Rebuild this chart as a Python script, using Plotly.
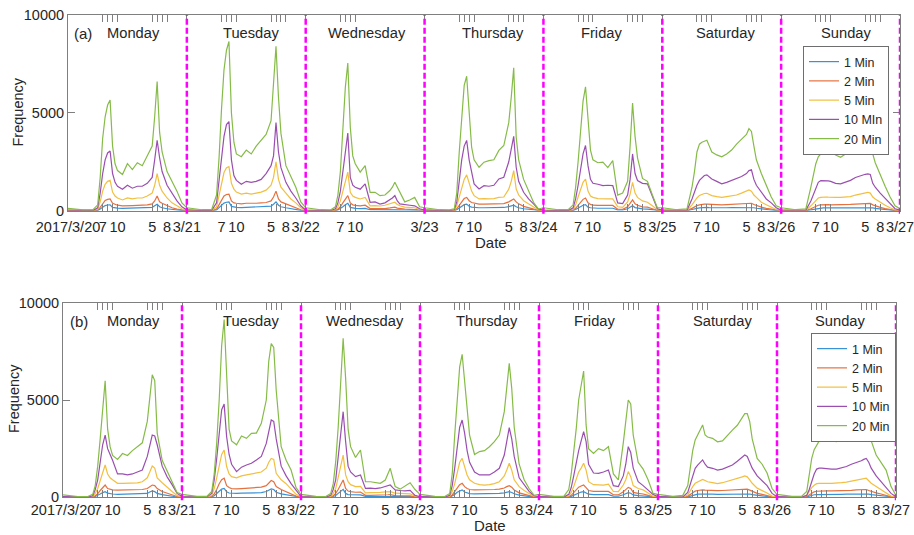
import plotly.graph_objects as go

# ---------------- data ----------------
HOURS = [0, 3, 5, 6, 6.5, 7, 7.5, 8, 8.5, 9, 9.5, 10, 11, 12, 13, 14, 15, 16, 17, 17.5, 18, 18.5, 19, 20, 21, 22, 23]
DAYS = ["Monday", "Tuesday", "Wednesday", "Thursday", "Friday", "Saturday", "Sunday"]
DATE_LABELS = ["2017/3/20", "3/21", "3/22", "3/23", "3/24", "3/25", "3/26", "3/27"]
HOUR_TICKS = [7, 8, 9, 10, 17, 18, 19, 20]
HOUR_TICK_TEXT = ["7", "", "", "10", "5", "", "", "8"]
NAMES_A = ["1 Min", "2 Min", "5 Min", "10 MIn", "20 Min"]
NAMES_B = ["1 Min", "2 Min", "5 Min", "10 Min", "20 Min"]
Y_TICKS = [0, 5000, 10000]

# panel (a)
A_1MIN = [
    [2, 1, 1, 15, 90, 190, 260, 290, 300, 170, 140, 130, 120, 125, 120, 125, 125, 140, 170, 250, 330, 200, 150, 100, 60, 30, 10],
    [2, 1, 1, 40, 160, 280, 390, 430, 450, 220, 180, 170, 160, 170, 165, 170, 180, 190, 230, 330, 450, 280, 200, 150, 100, 60, 20],
    [2, 1, 1, 10, 40, 100, 200, 300, 380, 170, 130, 120, 110, 120, 50, 50, 45, 50, 60, 70, 80, 55, 45, 35, 30, 25, 10],
    [2, 1, 1, 5, 50, 140, 240, 310, 340, 230, 180, 160, 150, 150, 150, 150, 160, 165, 210, 240, 280, 200, 150, 100, 70, 35, 8],
    [2, 1, 1, 15, 60, 140, 220, 280, 310, 180, 150, 130, 125, 125, 125, 125, 40, 35, 100, 160, 250, 160, 130, 90, 80, 45, 10],
    [2, 1, 2, 60, 100, 120, 140, 155, 160, 165, 160, 155, 150, 145, 150, 155, 160, 165, 175, 180, 175, 150, 125, 85, 55, 35, 10],
    [2, 1, 2, 50, 85, 110, 130, 140, 145, 145, 145, 140, 140, 140, 145, 150, 160, 165, 170, 175, 170, 140, 115, 80, 50, 25, 8],
]
A_2MIN = [
    [5, 2, 2, 30, 170, 380, 520, 580, 600, 380, 320, 280, 250, 270, 260, 270, 270, 300, 350, 500, 750, 450, 380, 250, 150, 80, 30],
    [5, 2, 2, 80, 300, 550, 750, 830, 850, 500, 400, 380, 350, 380, 370, 380, 400, 420, 500, 700, 1000, 600, 450, 350, 250, 150, 50],
    [5, 2, 2, 20, 80, 200, 400, 620, 770, 400, 300, 270, 250, 280, 110, 110, 100, 110, 140, 160, 180, 130, 100, 80, 70, 60, 20],
    [5, 2, 2, 10, 100, 280, 480, 620, 680, 510, 420, 380, 340, 340, 340, 340, 350, 360, 450, 520, 600, 450, 350, 220, 150, 80, 15],
    [5, 2, 2, 30, 120, 280, 450, 580, 650, 400, 320, 280, 270, 270, 270, 270, 80, 70, 200, 350, 550, 350, 280, 200, 180, 100, 20],
    [5, 2, 4, 120, 200, 260, 300, 330, 340, 340, 330, 320, 310, 300, 310, 320, 330, 350, 370, 380, 380, 320, 270, 180, 120, 70, 20],
    [5, 2, 4, 100, 170, 230, 280, 300, 310, 310, 310, 300, 300, 300, 310, 320, 340, 350, 370, 380, 370, 300, 250, 170, 110, 60, 15],
]
A_5MIN = [
    [15, 5, 5, 80, 450, 1000, 1350, 1500, 1550, 950, 750, 650, 550, 650, 600, 650, 650, 750, 900, 1300, 1900, 1300, 1000, 650, 400, 250, 100],
    [20, 5, 5, 200, 750, 1400, 1950, 2200, 2250, 1400, 1100, 950, 850, 900, 850, 900, 950, 1050, 1300, 1700, 2500, 1600, 1200, 900, 600, 400, 150],
    [15, 5, 5, 50, 200, 500, 1000, 1600, 1970, 940, 750, 680, 600, 680, 250, 260, 240, 280, 350, 400, 430, 320, 250, 180, 170, 150, 60],
    [15, 5, 5, 30, 250, 700, 1200, 1600, 1830, 1370, 1000, 770, 600, 620, 600, 620, 680, 700, 1100, 1500, 2050, 1110, 800, 510, 350, 200, 40],
    [15, 5, 5, 80, 300, 700, 1100, 1450, 1620, 1000, 750, 680, 620, 600, 600, 600, 200, 170, 450, 850, 1450, 900, 680, 500, 430, 250, 50],
    [15, 5, 10, 300, 500, 650, 780, 850, 880, 890, 830, 770, 720, 680, 720, 760, 800, 900, 1000, 1060, 1000, 800, 680, 430, 300, 180, 60],
    [15, 5, 10, 250, 400, 550, 650, 680, 700, 700, 690, 680, 680, 680, 700, 720, 800, 850, 920, 940, 900, 700, 600, 420, 280, 150, 40],
]
A_10MIN = [
    [30, 10, 10, 150, 900, 1900, 2600, 2950, 3050, 1900, 1450, 1250, 1100, 1300, 1150, 1250, 1250, 1400, 1700, 2600, 3600, 2700, 2000, 1300, 900, 500, 200],
    [40, 15, 15, 400, 1500, 2800, 3800, 4400, 4550, 2600, 1800, 1550, 1350, 1500, 1450, 1500, 1600, 1900, 2300, 2800, 4500, 3000, 2200, 1450, 1000, 650, 250],
    [30, 10, 10, 100, 400, 1000, 2000, 3200, 3970, 1700, 1300, 1200, 1100, 1370, 430, 450, 340, 400, 550, 650, 770, 500, 350, 300, 280, 250, 100],
    [30, 10, 10, 50, 450, 1500, 2600, 3300, 3590, 2600, 1880, 1370, 1110, 1280, 1250, 1300, 1620, 1710, 2500, 3200, 3800, 2220, 1500, 940, 600, 350, 80],
    [30, 10, 10, 150, 600, 1300, 2200, 2900, 3330, 2300, 1600, 1400, 1350, 1280, 1300, 1280, 400, 360, 800, 1600, 2900, 1900, 1540, 1400, 1370, 700, 100],
    [30, 10, 30, 600, 1000, 1300, 1550, 1700, 1800, 1830, 1700, 1620, 1500, 1370, 1450, 1550, 1650, 1750, 1900, 2050, 2090, 1600, 1300, 940, 600, 400, 150],
    [30, 10, 30, 500, 800, 1200, 1450, 1540, 1540, 1540, 1520, 1500, 1400, 1370, 1450, 1550, 1700, 1790, 1860, 1880, 1850, 1400, 1200, 900, 650, 350, 100],
]
A_20MIN = [
    [120, 40, 40, 300, 1700, 3700, 4800, 5400, 5650, 3300, 2400, 2050, 1850, 2400, 2100, 2450, 2300, 2800, 3300, 4800, 6600, 4000, 3000, 2000, 1500, 1000, 400],
    [150, 50, 50, 800, 2700, 5200, 7200, 8200, 8650, 5000, 3500, 2900, 2760, 3100, 2900, 3300, 3600, 3900, 4600, 6300, 8400, 5800, 3950, 2300, 1700, 1200, 450],
    [150, 50, 40, 200, 800, 2000, 4000, 6300, 7550, 4270, 2800, 2400, 1970, 2300, 940, 940, 770, 800, 1030, 1200, 1450, 1200, 900, 450, 550, 680, 200],
    [150, 50, 40, 100, 900, 3000, 5000, 6400, 6870, 4800, 3250, 2600, 2220, 2480, 2560, 2600, 3080, 3330, 4500, 5800, 7300, 3760, 2600, 1600, 1030, 430, 85],
    [150, 50, 50, 300, 1200, 2500, 4300, 5600, 6330, 4500, 3100, 2600, 2450, 2480, 2200, 2560, 800, 900, 1500, 3300, 5500, 3800, 2700, 1650, 1500, 800, 150],
    [150, 50, 100, 1200, 2000, 3000, 3400, 3500, 3550, 3600, 3300, 3000, 2850, 2750, 2900, 3100, 3400, 3650, 3900, 4190, 4050, 3300, 2600, 1900, 1300, 700, 250],
    [150, 50, 100, 1200, 1750, 2400, 2750, 2900, 3050, 3080, 3050, 3000, 2850, 2730, 2900, 3200, 3500, 3670, 3850, 3900, 3750, 2900, 2450, 1800, 1250, 700, 250],
]
A_END = [2, 5, 15, 30, 100]

# panel (b)
B_1MIN = [
    [2, 1, 1, 10, 40, 90, 170, 240, 290, 210, 180, 170, 150, 155, 155, 155, 160, 170, 200, 270, 330, 290, 200, 140, 90, 50, 15],
    [2, 1, 1, 20, 80, 180, 320, 420, 460, 280, 220, 210, 200, 210, 215, 220, 230, 240, 300, 380, 430, 400, 260, 180, 130, 80, 25],
    [2, 1, 1, 10, 40, 90, 200, 310, 410, 200, 140, 130, 120, 125, 50, 50, 50, 50, 55, 60, 65, 50, 40, 35, 35, 30, 10],
    [2, 1, 1, 10, 60, 150, 260, 340, 380, 270, 210, 190, 180, 180, 180, 180, 190, 200, 230, 260, 290, 250, 180, 110, 70, 40, 10],
    [2, 1, 1, 15, 50, 110, 180, 240, 270, 290, 230, 160, 140, 135, 135, 140, 60, 55, 130, 180, 240, 210, 120, 90, 80, 45, 10],
    [2, 1, 1, 25, 70, 110, 150, 165, 170, 175, 170, 165, 160, 155, 160, 165, 175, 180, 190, 195, 190, 170, 140, 95, 70, 40, 10],
    [2, 1, 1, 20, 60, 100, 130, 140, 145, 150, 150, 150, 150, 150, 155, 160, 165, 170, 180, 185, 180, 160, 140, 105, 80, 45, 10],
]
B_2MIN = [
    [5, 2, 2, 20, 80, 180, 350, 500, 630, 450, 400, 380, 370, 380, 380, 380, 390, 400, 450, 550, 630, 600, 450, 300, 200, 120, 40],
    [5, 2, 2, 40, 180, 400, 700, 900, 980, 600, 500, 450, 430, 450, 460, 480, 500, 520, 600, 750, 860, 800, 550, 400, 300, 180, 60],
    [5, 2, 2, 20, 80, 200, 400, 650, 890, 450, 320, 290, 260, 270, 100, 100, 100, 110, 120, 130, 140, 110, 90, 80, 80, 70, 20],
    [5, 2, 2, 20, 120, 300, 500, 650, 720, 550, 450, 400, 380, 380, 380, 380, 400, 420, 480, 550, 600, 520, 380, 230, 150, 90, 20],
    [5, 2, 2, 30, 100, 230, 380, 520, 580, 630, 500, 350, 300, 290, 290, 300, 130, 120, 280, 380, 510, 450, 250, 200, 170, 100, 20],
    [5, 2, 2, 50, 150, 240, 320, 350, 370, 380, 370, 360, 350, 340, 350, 360, 380, 400, 420, 430, 420, 370, 300, 200, 150, 90, 25],
    [5, 2, 2, 40, 130, 220, 280, 310, 320, 330, 330, 330, 330, 330, 340, 350, 360, 380, 400, 410, 400, 350, 300, 230, 170, 100, 25],
]
B_5MIN = [
    [15, 5, 5, 50, 200, 450, 900, 1300, 1660, 1200, 1000, 900, 720, 720, 720, 720, 740, 800, 1000, 1300, 1610, 1500, 1000, 750, 500, 300, 100],
    [20, 5, 5, 100, 450, 1000, 1700, 2200, 2430, 1580, 1200, 1060, 1000, 1100, 1150, 1200, 1230, 1300, 1500, 1800, 2000, 1950, 1230, 900, 700, 450, 150],
    [15, 5, 5, 50, 200, 450, 1000, 1600, 2170, 1150, 800, 650, 550, 560, 230, 240, 230, 250, 280, 300, 290, 250, 210, 200, 200, 180, 60],
    [15, 5, 5, 50, 300, 700, 1300, 1800, 2000, 1500, 1150, 900, 720, 650, 630, 650, 700, 800, 1100, 1400, 1750, 1400, 900, 550, 350, 200, 50],
    [15, 5, 5, 70, 250, 550, 900, 1300, 1500, 1750, 1400, 800, 650, 630, 630, 680, 300, 290, 630, 900, 1320, 1060, 600, 450, 380, 220, 50],
    [15, 5, 5, 120, 350, 550, 720, 800, 880, 920, 860, 800, 750, 700, 750, 820, 880, 950, 1050, 1100, 1050, 900, 720, 470, 350, 220, 60],
    [15, 5, 5, 100, 300, 500, 620, 700, 720, 730, 720, 720, 720, 720, 750, 780, 830, 870, 920, 960, 980, 850, 720, 550, 400, 250, 60],
]
B_10MIN = [
    [30, 10, 10, 80, 400, 900, 1800, 2700, 3200, 2500, 2200, 1900, 1200, 1200, 1150, 1200, 1300, 1400, 2100, 2700, 3200, 3150, 2700, 1600, 1050, 650, 200],
    [40, 15, 15, 200, 900, 2000, 3300, 4500, 4790, 3120, 2200, 1700, 1320, 1550, 1660, 1750, 1920, 2100, 2770, 3400, 3970, 3900, 3000, 1600, 1100, 700, 350],
    [30, 10, 10, 100, 400, 900, 2000, 3300, 4400, 2860, 1600, 1300, 1060, 1150, 460, 470, 450, 480, 550, 600, 630, 500, 380, 350, 330, 360, 100],
    [30, 10, 10, 100, 600, 1500, 2600, 3600, 3970, 3300, 2400, 1800, 1300, 1150, 1150, 1150, 1300, 1490, 2170, 2900, 3580, 3000, 2100, 1000, 650, 300, 80],
    [30, 10, 10, 150, 500, 1100, 1800, 2400, 2900, 3370, 2860, 1700, 1250, 1230, 1300, 1400, 600, 550, 1100, 1700, 2600, 2300, 1500, 800, 600, 380, 150],
    [30, 10, 15, 250, 700, 1100, 1490, 1650, 1800, 1920, 1700, 1550, 1490, 1400, 1450, 1550, 1660, 1850, 2050, 2170, 2100, 1830, 1500, 1100, 850, 600, 200],
    [30, 10, 10, 100, 400, 800, 1200, 1450, 1500, 1500, 1480, 1470, 1450, 1450, 1520, 1580, 1700, 1780, 1880, 1950, 2000, 1800, 1500, 1100, 800, 550, 200],
]
B_20MIN = [
    [120, 40, 40, 150, 600, 1600, 3000, 4500, 5990, 3500, 2600, 2150, 1950, 2250, 2150, 2400, 2600, 2800, 3900, 5200, 6300, 6000, 3300, 1900, 1350, 800, 250],
    [150, 50, 50, 300, 1200, 2800, 5000, 7800, 9140, 6030, 3500, 2900, 2700, 3150, 3030, 3290, 3300, 3800, 5000, 7000, 7900, 7700, 5500, 2600, 1900, 1400, 500],
    [150, 50, 40, 200, 700, 1830, 3600, 6000, 8170, 6110, 3500, 2600, 2050, 2430, 800, 800, 760, 720, 890, 1200, 1490, 1000, 550, 420, 600, 750, 400],
    [150, 50, 40, 200, 1200, 3200, 5200, 6700, 7350, 6000, 4500, 3200, 2200, 2350, 2400, 2600, 2860, 3200, 4400, 5600, 6880, 5600, 3600, 1700, 900, 450, 100],
    [150, 50, 50, 400, 1200, 2200, 3500, 5000, 5800, 6490, 3720, 2500, 2260, 2500, 2400, 2600, 1200, 890, 2800, 4000, 5000, 4800, 3200, 1800, 1450, 900, 200],
    [150, 50, 100, 600, 1500, 2400, 2950, 3200, 3400, 3720, 3200, 3100, 3030, 2850, 2900, 3200, 3450, 3700, 4100, 4300, 4300, 3890, 3000, 2000, 1700, 1250, 450],
    [150, 50, 60, 300, 1200, 2000, 2450, 2690, 2900, 3120, 3000, 2950, 2900, 2860, 3000, 3200, 3450, 3650, 3800, 3900, 3970, 3500, 2900, 2170, 1750, 1400, 550],
]
B_END = [2, 5, 15, 30, 100]

# day-label positions (hours from 2017/3/20 00:00)
LABEL_HOURS_A = [13.3, 36.9, 60.4, 85.8, 107.8, 132.8, 157.1]
LABEL_HOURS_B = [14.2, 37.9, 60.9, 85.5, 107.1, 133.0, 156.7]
# panel (a) Wednesday shows no evening ticks
A_SKIP_EVENING = [2]

COLORS = ["#3a92d6", "#e5713f", "#f2bf40", "#9a4fb0", "#86bb48"]
FONT = "Liberation Sans, Arial, Helvetica, sans-serif"
TXT = "#262626"
AX = "#7f7f7f"
W, H = 914, 535


def flatten(days, end):
    xs, ys = [], []
    for d, vals in enumerate(days):
        assert len(vals) == len(HOURS)
        for h, v in zip(HOURS, vals):
            xs.append(d * 24 + h)
            ys.append(v)
    xs.append(len(days) * 24)
    ys.append(end)
    return xs, ys


def tick_spec(skip_evening):
    vals, text = [], []
    for d in range(len(DAYS) + 1):
        vals.append(d * 24)
        text.append(DATE_LABELS[d])
        if d < len(DAYS):
            for h, t in zip(HOUR_TICKS, HOUR_TICK_TEXT):
                if d in skip_evening and h > 12:
                    continue
                vals.append(d * 24 + h)
                text.append(t)
    return vals, text


PANELS = [
    dict(tag="(a)", series=[A_1MIN, A_2MIN, A_5MIN, A_10MIN, A_20MIN], end=A_END, names=NAMES_A,
         px=(68, 900), py=(15, 210.7), skip=A_SKIP_EVENING, labels=LABEL_HOURS_A, standoff=3,
         tagpos=(83, 33.5), freqpos=(18, 112.5), datepos=(491, 242), dateanchor="middle",
         legpos=(889, 46)),
    dict(tag="(b)", series=[B_1MIN, B_2MIN, B_5MIN, B_10MIN, B_20MIN], end=B_END, names=NAMES_B,
         px=(63, 896), py=(302.7, 497.3), skip=[], labels=LABEL_HOURS_B, standoff=-1,
         tagpos=(79, 321), freqpos=(14, 399), datepos=(489.5, 535), dateanchor="bottom",
         legpos=(896, 333)),
]

fig = go.Figure()
shapes, annotations = [], []
layout = {}

for i, p in enumerate(PANELS):
    sfx = "" if i == 0 else str(i + 1)
    xa, ya = "x" + sfx, "y" + sfx
    leg = "legend" + sfx
    for j, days in enumerate(p["series"]):
        xs, ys = flatten(days, p["end"][j])
        fig.add_trace(go.Scatter(x=xs, y=ys, mode="lines", name=p["names"][j],
                                 line=dict(color=COLORS[j], width=1.2),
                                 xaxis=xa, yaxis=ya, legend=leg, hoverinfo="skip"))
    tv, tt = tick_spec(p["skip"])
    layout["xaxis" + sfx] = dict(
        domain=[p["px"][0] / W, p["px"][1] / W], range=[0, 24 * len(DAYS)], anchor=ya,
        automargin=False, ticklabeloverflow="allow", ticklabelstandoff=p["standoff"],
        tickvals=tv, ticktext=tt, tickangle=0, ticks="inside", ticklen=7, tickwidth=1,
        tickcolor=AX, showline=True, linecolor=AX, linewidth=1, mirror="ticks",
        showgrid=False, zeroline=False, tickfont=dict(family=FONT, size=14.5, color=TXT))
    layout["yaxis" + sfx] = dict(
        domain=[1 - p["py"][1] / H, 1 - p["py"][0] / H], range=[0, 10000], anchor=xa,
        automargin=False, ticklabeloverflow="allow",
        tickvals=Y_TICKS, ticktext=[str(v) for v in Y_TICKS], ticks="inside", ticklen=7,
        tickwidth=1, tickcolor=AX, showline=True, linecolor=AX, linewidth=1, mirror="ticks",
        showgrid=False, zeroline=False, tickfont=dict(family=FONT, size=14.5, color=TXT))
    layout[leg] = dict(
        x=p["legpos"][0] / W, y=1 - p["legpos"][1] / H, xanchor="right", yanchor="top",
        xref="paper", yref="paper", bgcolor="white", bordercolor="#6e6e6e", borderwidth=1,
        font=dict(family=FONT, size=12.5, color=TXT), tracegroupgap=0, itemwidth=30)
    for d in range(1, len(DAYS) + 1):
        shapes.append(dict(type="line", xref=xa, yref=ya + " domain", x0=d * 24, x1=d * 24,
                           y0=-0.015, y1=1, line=dict(color="#ff00ff", width=2.5, dash="6px,3px"),
                           layer="above"))
    ly = 1 - (p["py"][0] + 18.5) / H
    for d, name in enumerate(DAYS):
        annotations.append(dict(text=name, x=p["labels"][d], y=ly, xref=xa, yref="paper",
                                showarrow=False, xanchor="center", yanchor="middle",
                                font=dict(family=FONT, size=14.7, color=TXT)))
    annotations.append(dict(text=p["tag"], x=p["tagpos"][0] / W, y=1 - p["tagpos"][1] / H,
                            xref="paper", yref="paper", showarrow=False, xanchor="center",
                            yanchor="middle", font=dict(family=FONT, size=15, color=TXT)))
    annotations.append(dict(text="Frequency", x=p["freqpos"][0] / W, y=1 - p["freqpos"][1] / H,
                            xref="paper", yref="paper", showarrow=False, textangle=-90,
                            xanchor="center", yanchor="middle",
                            font=dict(family=FONT, size=14.5, color=TXT)))
    annotations.append(dict(text="Date", x=p["datepos"][0] / W, y=1 - p["datepos"][1] / H,
                            xref="paper", yref="paper", showarrow=False, xanchor="center",
                            yanchor=p["dateanchor"], borderpad=0,
                            font=dict(family=FONT, size=15, color=TXT)))

fig.update_layout(width=W, height=H,
                  margin=dict(l=0, r=0, t=0, b=0, pad=0, autoexpand=False), autosize=False,
                  paper_bgcolor="white", plot_bgcolor="white", showlegend=True,
                  shapes=shapes, annotations=annotations, **layout)
fig.write_html("out.html")
